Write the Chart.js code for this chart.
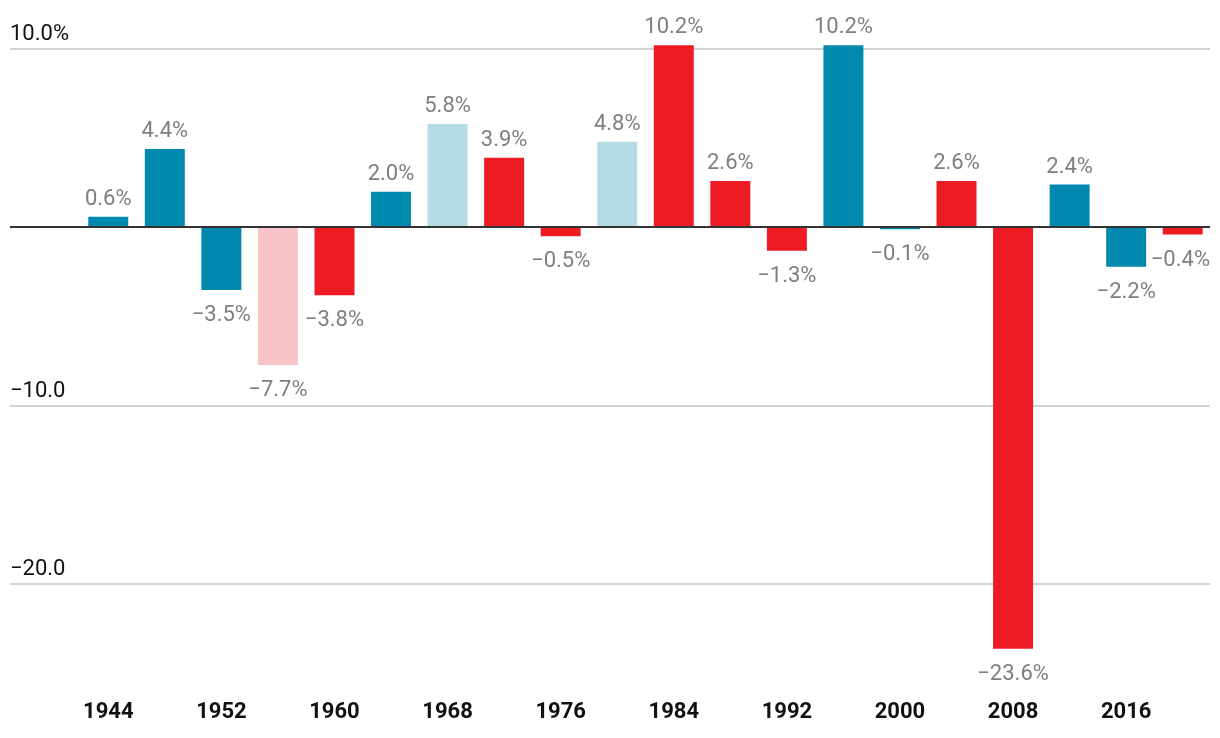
<!DOCTYPE html>
<html>
<head>
<meta charset="utf-8">
<script src="https://cdn.jsdelivr.net/npm/chart.js@4"></script>
<style>
  html, body { margin: 0; padding: 0; background: #fff; }
  .wrap { width: 1220px; height: 738px; position: relative; }
</style>
</head>
<body>
<div class="wrap"><canvas id="chart"></canvas></div>
<script>
const years = ['1944','1948','1952','1956','1960','1964','1968','1972','1976','1980','1984','1988','1992','1996','2000','2004','2008','2012','2016','2020'];
const changes = [0.6, 4.4, -3.5, -7.7, -3.8, 2.0, 5.8, 3.9, -0.5, 4.8, 10.2, 2.6, -1.3, 10.2, -0.1, 2.6, -23.6, 2.4, -2.2, -0.4];
// d = dem blue, r = rep red, dl / rl = lighter shade
const party = ['d','d','d','rl','r','d','dl','r','r','dl','r','r','r','d','d','r','r','d','d','r'];
const gridTicks = [10, -10, -20];
const gridTickLabels = ['10.0%', '\u221210.0', '\u221220.0'];

const COLORS = { d: '#0089ae', r: '#ed1c24', dl: '#b4dce5', rl: '#f8c4c7' };
const FONT = 'Roboto, "Liberation Sans", sans-serif';

const fmt = v => (v < 0 ? '\u2212' : '') + Math.abs(v).toFixed(1) + '%';

const overlay = {
  id: 'overlay',
  beforeDatasetsDraw(chart) {
    const { ctx } = chart;
    const y = chart.scales.y;
    ctx.save();
    ctx.lineWidth = 2;
    ctx.strokeStyle = '#d2d2d2';
    ctx.font = '22px ' + FONT;
    ctx.fillStyle = '#111';
    ctx.textBaseline = 'alphabetic';
    ctx.textAlign = 'left';
    gridTicks.forEach((t, i) => {
      const py = Math.round(y.getPixelForValue(t));
      ctx.beginPath(); ctx.moveTo(10, py); ctx.lineTo(1210, py); ctx.stroke();
      ctx.fillText(gridTickLabels[i], 10, py - 9);
    });
    ctx.restore();
  },
  afterDatasetsDraw(chart) {
    const { ctx } = chart;
    const y = chart.scales.y;
    const meta = chart.getDatasetMeta(0);
    ctx.save();
    const py0 = Math.round(y.getPixelForValue(0));
    ctx.strokeStyle = '#333';
    ctx.lineWidth = 2;
    ctx.beginPath(); ctx.moveTo(10, py0); ctx.lineTo(1210, py0); ctx.stroke();

    ctx.font = '22px ' + FONT;
    ctx.fillStyle = '#7f7f7f';
    ctx.textAlign = 'center';
    ctx.textBaseline = 'alphabetic';
    meta.data.forEach((bar, i) => {
      const v = changes[i];
      const txt = fmt(v);
      const w = ctx.measureText(txt).width;
      let x = bar.x;
      if (x + w / 2 > 1210) x = 1210 - w / 2;
      const py = v >= 0 ? bar.y - 12 : bar.y + 31;
      ctx.fillText(txt, x, py);
    });
    ctx.restore();
  }
};

new Chart(document.getElementById('chart'), {
  type: 'bar',
  data: {
    labels: years,
    datasets: [{
      data: changes,
      backgroundColor: party.map(p => COLORS[p]),
      barPercentage: 0.707,
      categoryPercentage: 1,
      borderWidth: 0
    }]
  },
  options: {
    responsive: true, maintainAspectRatio: false, animation: false,
    layout: { padding: { top: 40, left: 80, right: 9, bottom: 4 } },
    plugins: { legend: { display: false }, tooltip: { enabled: false } },
    scales: {
      x: {
        grid: { display: false, drawTicks: false },
        border: { display: false },
        ticks: {
          autoSkip: false, maxRotation: 0, padding: 8,
          color: '#111', font: { family: FONT, size: 22, weight: 'bold' },
          callback: (v, i) => i % 2 === 0 ? years[i] : ''
        }
      },
      y: {
        display: false, min: -26, max: 10.5
      }
    }
  },
  plugins: [overlay]
});
</script>
</body>
</html>
